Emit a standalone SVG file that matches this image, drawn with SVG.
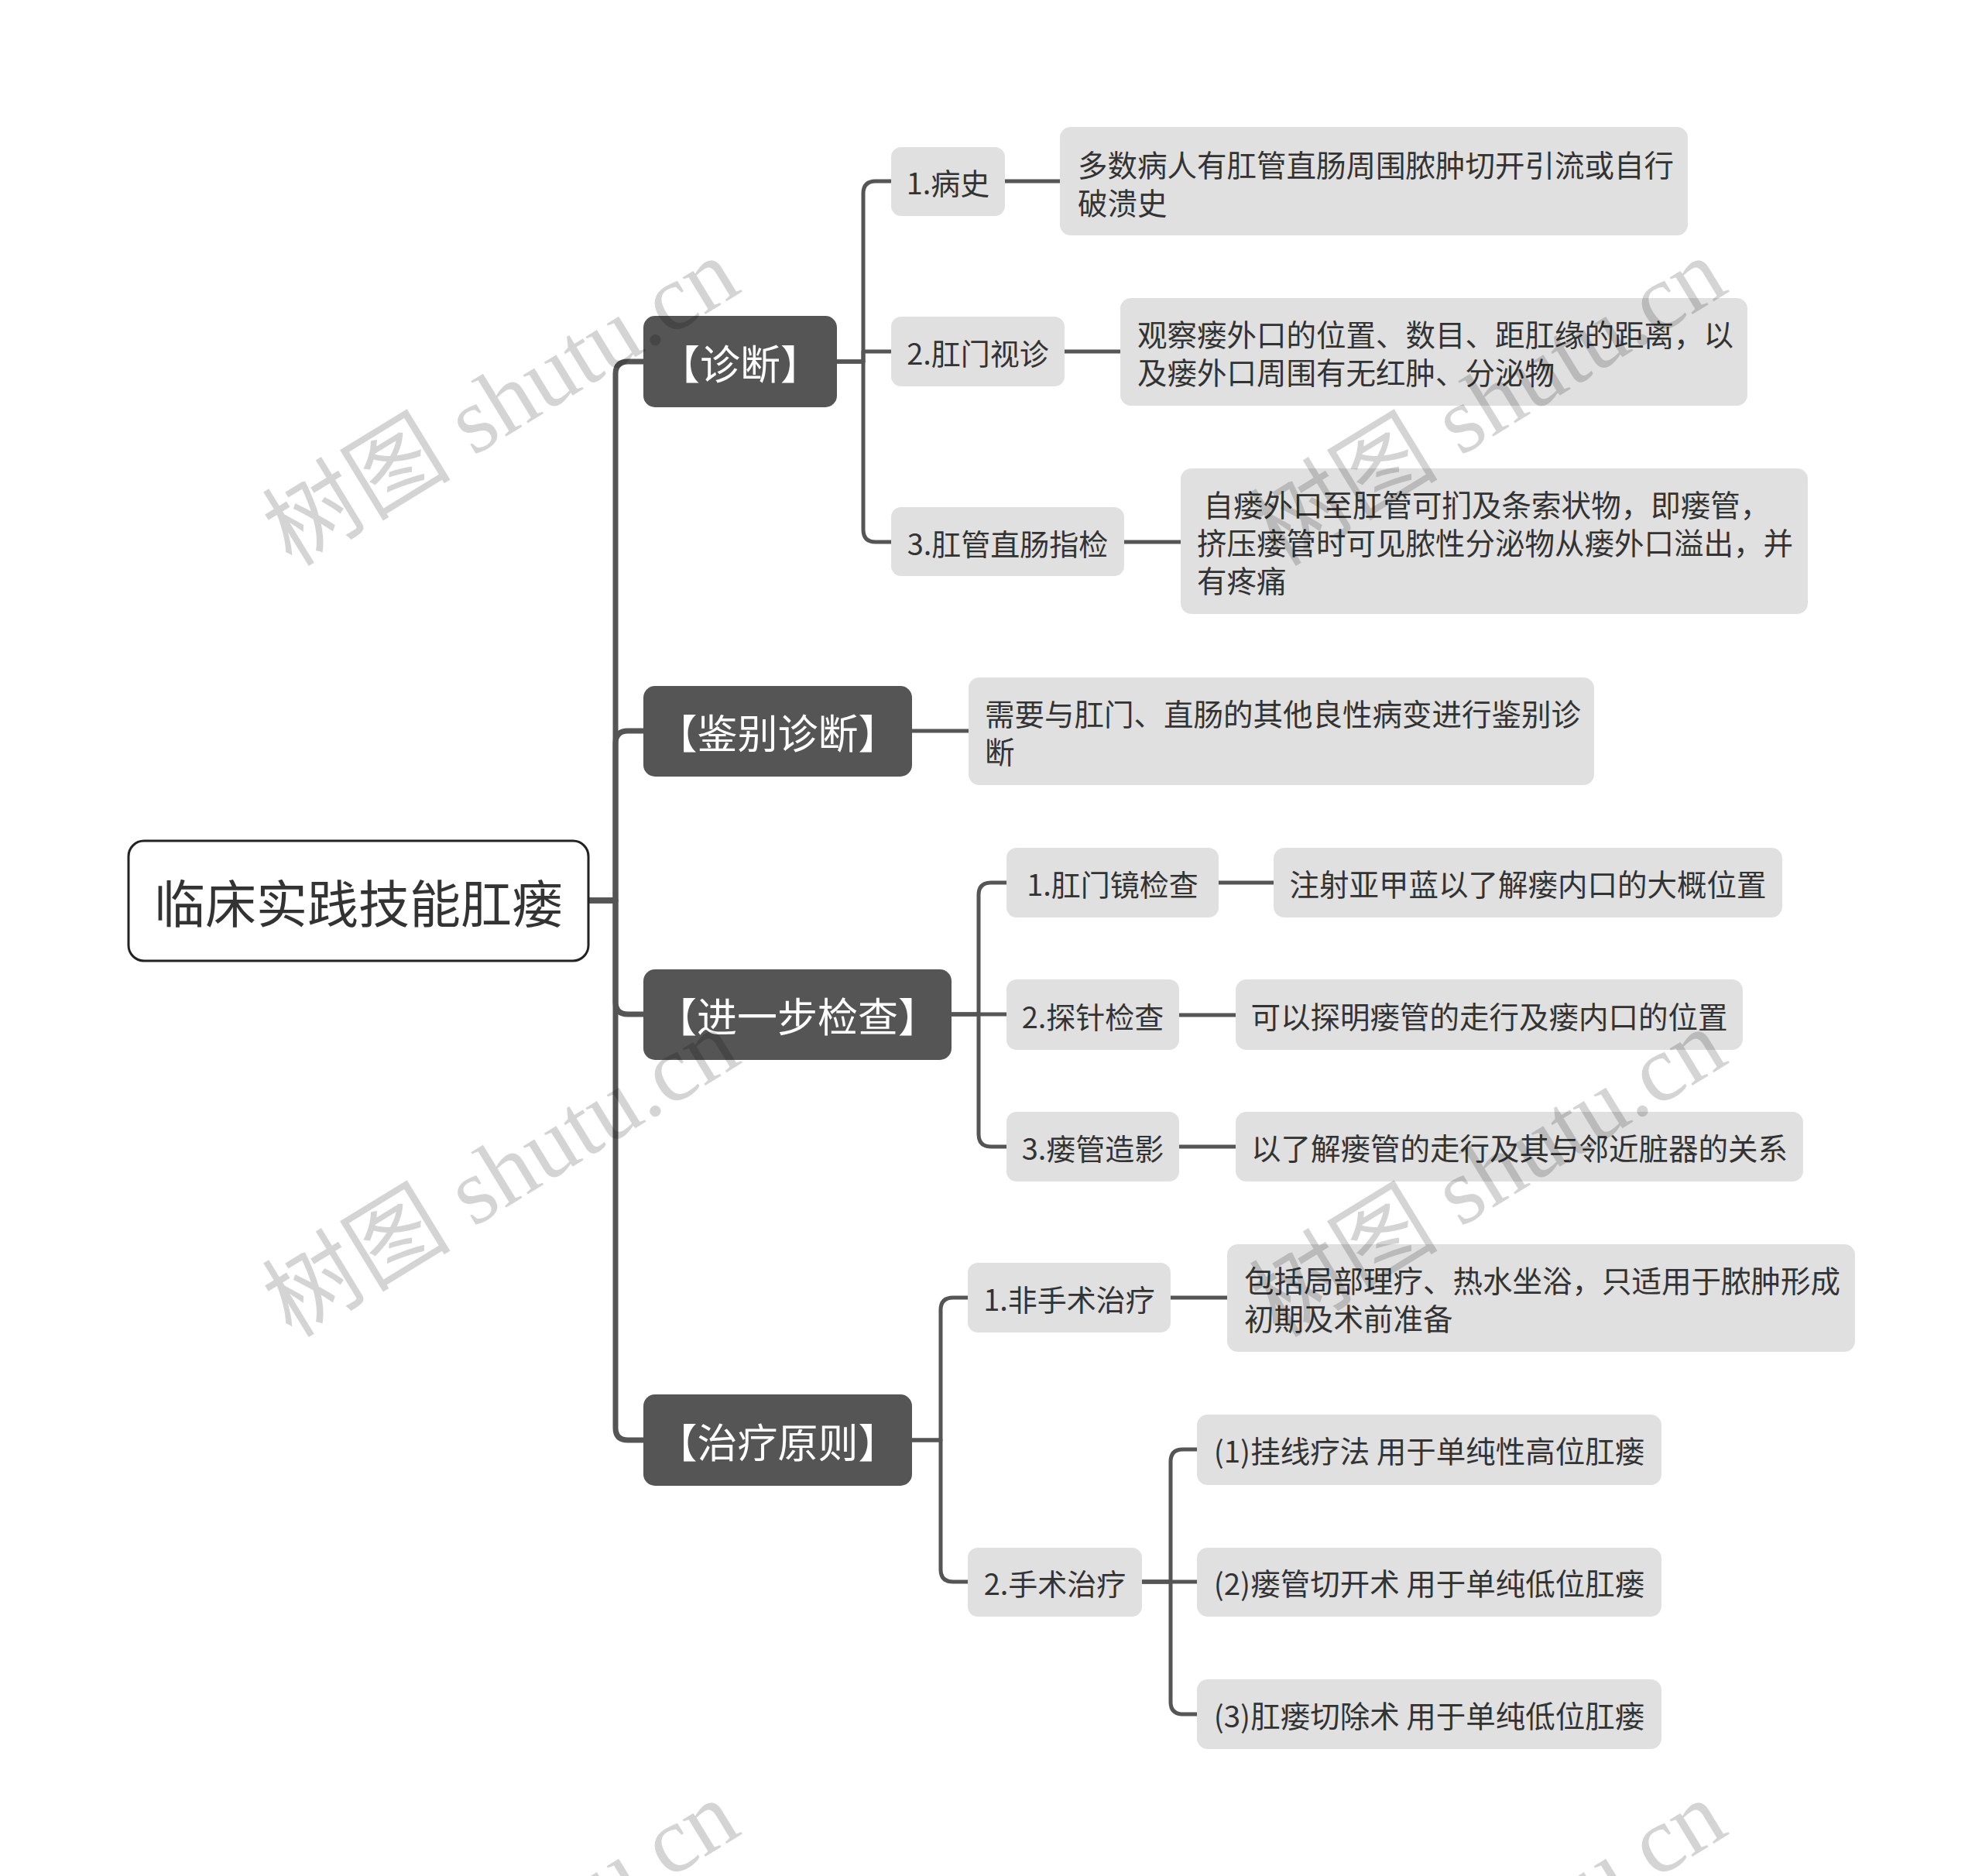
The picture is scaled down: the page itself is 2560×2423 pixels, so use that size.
<svg xmlns="http://www.w3.org/2000/svg" width="2560" height="2423" viewBox="0 0 2560 2423">
<style>
  text { font-family: "Noto Sans CJK SC", "Noto Sans", "Liberation Sans", sans-serif; }
  .conn { fill: none; stroke: #555555; stroke-width: 5; stroke-linejoin: round; }
  .trunk { fill: none; stroke: #555555; stroke-width: 7; stroke-linejoin: round; }
  .root rect { fill: #ffffff; stroke: #222222; stroke-width: 3; }
  .root text { font-size: 66px; fill: #333333; text-anchor: middle; dominant-baseline: central; }
  .l1 rect { fill: #555555; }
  .l1 text { font-size: 52px; fill: #ffffff; text-anchor: middle; dominant-baseline: central; }
  .l2 rect, .leaf rect { fill: #e0e0e0; }
  .l2 text { font-size: 38px; fill: #333333; text-anchor: middle; dominant-baseline: central; }
  .leaf text { font-size: 38.5px; fill: #333333; dominant-baseline: central; }
  .leaf text.c { text-anchor: middle; }
  .wm { font-family: "Liberation Serif", "Noto Sans CJK SC", serif; font-size: 122px; fill: #000000; fill-opacity: 0.17; text-anchor: middle; dominant-baseline: central; }
</style>
<rect x="0" y="0" width="2560" height="2423" fill="#ffffff"/>

<g id="connectors">
  <path class="trunk" d="M761 1163 H795 V483 Q795 467 811 467 H831"/>
  <path class="trunk" d="M761 1163 H795 V960 Q795 944 811 944 H831"/>
  <path class="trunk" d="M761 1163 H795 V1294 Q795 1310 811 1310 H831"/>
  <path class="trunk" d="M761 1163 H795 V1844 Q795 1860 811 1860 H831"/>

  <path class="conn" d="M1081 467 H1115 V250 Q1115 234 1131 234 H1151"/>
  <path class="conn" d="M1081 467 H1115 V454 H1151"/>
  <path class="conn" d="M1081 467 H1115 V684 Q1115 700 1131 700 H1151"/>
  <path class="conn" d="M1298 234 H1369"/>
  <path class="conn" d="M1375 454 H1447"/>
  <path class="conn" d="M1452 700 H1525"/>

  <path class="conn" d="M1178 944 H1251"/>

  <path class="conn" d="M1229 1310 H1264 V1156 Q1264 1140 1280 1140 H1300"/>
  <path class="conn" d="M1229 1310 H1300"/>
  <path class="conn" d="M1229 1310 H1264 V1465 Q1264 1481 1280 1481 H1300"/>
  <path class="conn" d="M1574 1140 H1645"/>
  <path class="conn" d="M1523 1311 H1596"/>
  <path class="conn" d="M1523 1481 H1596"/>

  <path class="conn" d="M1178 1860 H1215 V1692 Q1215 1676 1231 1676 H1250"/>
  <path class="conn" d="M1178 1860 H1215 V2027 Q1215 2043 1231 2043 H1250"/>
  <path class="conn" d="M1512 1676 H1585"/>
  <path class="conn" d="M1475 2043 H1512 V1888 Q1512 1872 1528 1872 H1546"/>
  <path class="conn" d="M1475 2043 H1546"/>
  <path class="conn" d="M1475 2043 H1512 V2198 Q1512 2214 1528 2214 H1546"/>
</g>

<g id="root" class="root">
  <rect x="166" y="1086" width="594" height="155" rx="20"/>
  <text x="463" y="1163">临床实践技能肛瘘</text>
</g>

<g id="n-zhenduan" class="l1">
  <rect x="831" y="408" width="250" height="118" rx="15"/>
  <text x="956" y="467">【诊断】</text>
</g>
<g id="n-jianbie" class="l1">
  <rect x="831" y="886" width="347" height="117" rx="15"/>
  <text x="1004.5" y="944">【鉴别诊断】</text>
</g>
<g id="n-jinyibu" class="l1">
  <rect x="831" y="1252" width="398" height="117" rx="15"/>
  <text x="1030" y="1310">【进一步检查】</text>
</g>
<g id="n-zhiliao" class="l1">
  <rect x="831" y="1801" width="347" height="118" rx="15"/>
  <text x="1004.5" y="1860">【治疗原则】</text>
</g>

<g id="n-bingshi" class="l2">
  <rect x="1151" y="190" width="147" height="89" rx="13"/>
  <text x="1224.5" y="234">1.病史</text>
</g>
<g id="n-shizhen" class="l2">
  <rect x="1151" y="409" width="224" height="90" rx="13"/>
  <text x="1263" y="454">2.肛门视诊</text>
</g>
<g id="n-zhijian" class="l2">
  <rect x="1151" y="655" width="301" height="89" rx="13"/>
  <text x="1301.5" y="700">3.肛管直肠指检</text>
</g>
<g id="n-gangmenjing" class="l2">
  <rect x="1300" y="1095" width="274" height="90" rx="13"/>
  <text x="1437" y="1140">1.肛门镜检查</text>
</g>
<g id="n-tanzhen" class="l2">
  <rect x="1300" y="1265" width="223" height="91" rx="13"/>
  <text x="1411.5" y="1311">2.探针检查</text>
</g>
<g id="n-zaoying" class="l2">
  <rect x="1300" y="1436" width="223" height="90" rx="13"/>
  <text x="1411.5" y="1481">3.瘘管造影</text>
</g>
<g id="n-feishoushu" class="l2">
  <rect x="1250" y="1631" width="262" height="90" rx="13"/>
  <text x="1381" y="1676">1.非手术治疗</text>
</g>
<g id="n-shoushu" class="l2">
  <rect x="1250" y="1999" width="225" height="89" rx="13"/>
  <text x="1362.5" y="2043">2.手术治疗</text>
</g>

<g id="leaf-1" class="leaf">
  <rect x="1369" y="164" width="811" height="140" rx="14"/>
  <text x="1392" y="211">多数病人有肛管直肠周围脓肿切开引流或自行</text>
  <text x="1392" y="260">破溃史</text>
</g>
<g id="leaf-2" class="leaf">
  <rect x="1447" y="385" width="810" height="139" rx="14"/>
  <text x="1469" y="430">观察瘘外口的位置、数目、距肛缘的距离，以</text>
  <text x="1469" y="479">及瘘外口周围有无红肿、分泌物</text>
</g>
<g id="leaf-3" class="leaf">
  <rect x="1525" y="605" width="810" height="188" rx="14"/>
  <text x="1546" y="650" xml:space="preserve"> 自瘘外口至肛管可扪及条索状物，即瘘管，</text>
  <text x="1546" y="699">挤压瘘管时可见脓性分泌物从瘘外口溢出，并</text>
  <text x="1546" y="748">有疼痛</text>
</g>
<g id="leaf-4" class="leaf">
  <rect x="1251" y="875" width="808" height="139" rx="14"/>
  <text x="1272" y="920">需要与肛门、直肠的其他良性病变进行鉴别诊</text>
  <text x="1272" y="969">断</text>
</g>
<g id="leaf-5" class="leaf">
  <rect x="1645" y="1095" width="657" height="90" rx="14"/>
  <text class="c" x="1973.5" y="1140">注射亚甲蓝以了解瘘内口的大概位置</text>
</g>
<g id="leaf-6" class="leaf">
  <rect x="1596" y="1265" width="655" height="91" rx="14"/>
  <text class="c" x="1923.5" y="1311">可以探明瘘管的走行及瘘内口的位置</text>
</g>
<g id="leaf-7" class="leaf">
  <rect x="1596" y="1436" width="733" height="90" rx="14"/>
  <text class="c" x="1962.5" y="1481">以了解瘘管的走行及其与邻近脏器的关系</text>
</g>
<g id="leaf-8" class="leaf">
  <rect x="1585" y="1607" width="811" height="139" rx="14"/>
  <text x="1607" y="1652">包括局部理疗、热水坐浴，只适用于脓肿形成</text>
  <text x="1607" y="1701">初期及术前准备</text>
</g>
<g id="leaf-9" class="leaf">
  <rect x="1546" y="1827" width="600" height="91" rx="14"/>
  <text class="c" x="1846" y="1872">(1)挂线疗法 用于单纯性高位肛瘘</text>
</g>
<g id="leaf-10" class="leaf">
  <rect x="1546" y="1999" width="600" height="89" rx="14"/>
  <text class="c" x="1846" y="2043">(2)瘘管切开术 用于单纯低位肛瘘</text>
</g>
<g id="leaf-11" class="leaf">
  <rect x="1546" y="2169" width="600" height="90" rx="14"/>
  <text class="c" x="1846" y="2214">(3)肛瘘切除术 用于单纯低位肛瘘</text>
</g>

<g id="watermark">
  <text class="wm" transform="translate(647 519) rotate(-31.5)">树图 shutu.cn</text>
  <text class="wm" transform="translate(1922 519) rotate(-31.5)">树图 shutu.cn</text>
  <text class="wm" transform="translate(647 1515) rotate(-31.5)">树图 shutu.cn</text>
  <text class="wm" transform="translate(1922 1515) rotate(-31.5)">树图 shutu.cn</text>
  <text class="wm" transform="translate(647 2511) rotate(-31.5)">树图 shutu.cn</text>
  <text class="wm" transform="translate(1922 2511) rotate(-31.5)">树图 shutu.cn</text>
</g>
</svg>
